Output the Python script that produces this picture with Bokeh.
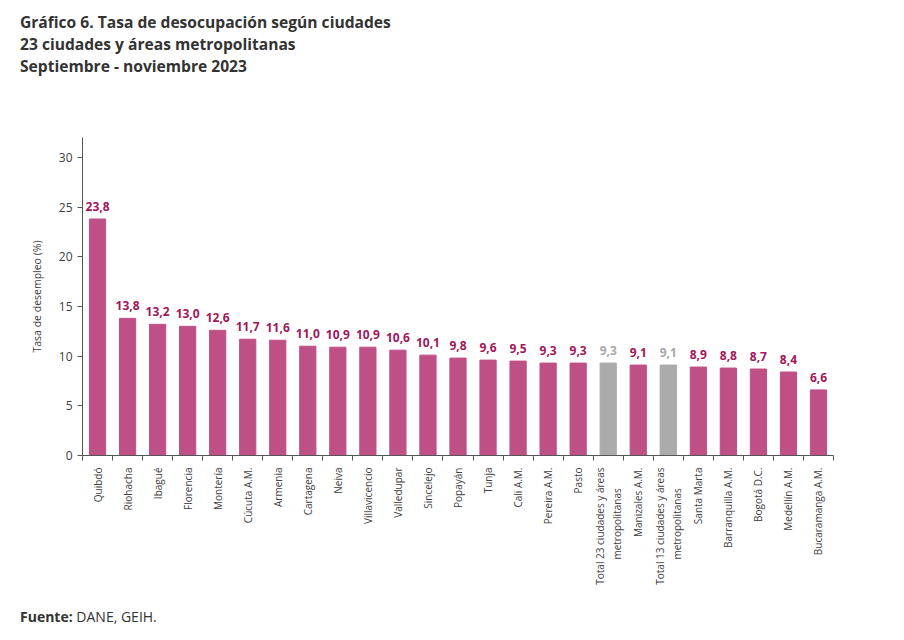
import math

from bokeh.plotting import figure
from bokeh.models import ColumnDataSource, FixedTicker, Range1d, Div
from bokeh.layouts import column
from bokeh.core.properties import value
from bokeh.embed import file_html
from bokeh.resources import INLINE

# Unemployment rate by city, Sep-Nov 2023
cities = [
    "Quibdó", "Riohacha", "Ibagué", "Florencia", "Montería", "Cúcuta A.M.",
    "Armenia", "Cartagena", "Neiva", "Villavicencio", "Valledupar", "Sincelejo",
    "Popayán", "Tunja", "Cali A.M.", "Pereira A.M.", "Pasto",
    "Total 23 ciudades y áreas metropolitanas", "Manizales A.M.",
    "Total 13 ciudades y áreas metropolitanas", "Santa Marta",
    "Barranquilla A.M.", "Bogotá D.C.", "Medellín A.M.", "Bucaramanga A.M.",
]
rates = [23.8, 13.8, 13.2, 13.0, 12.6, 11.7, 11.6, 11.0, 10.9, 10.9, 10.6, 10.1,
         9.8, 9.6, 9.5, 9.3, 9.3, 9.3, 9.1, 9.1, 8.9, 8.8, 8.7, 8.4, 6.6]
is_total = [c.startswith("Total") for c in cities]
y_ticks = [0, 5, 10, 15, 20, 25, 30]
title_lines = [
    "Gráfico 6. Tasa de desocupación según ciudades",
    "23 ciudades y áreas metropolitanas",
    "Septiembre - noviembre 2023",
]

BAR = "#BE5086"
BAR_TOTAL = "#ABABAB"
LBL = "#A0175A"
LBL_TOTAL = "#A8A8A8"
TXT = "#404040"
FONT = "Open Sans"


def tick_text(name):
    # the two long "Total ..." names wrap onto two lines; the short second
    # line is padded so it sits centred under the first
    if name.startswith("Total"):
        first = name.split(" metropolitanas")[0]
        return first + "\n" + "metropolitanas" + "\u00a0" * 8 + "\u200b"
    return name


n = len(cities)
xs = [i + 0.5 for i in range(n)]
src = ColumnDataSource(dict(
    x=xs,
    y=rates,
    color=[BAR_TOTAL if t else BAR for t in is_total],
    lcolor=[LBL_TOTAL if t else LBL for t in is_total],
    label=[f"{v:.1f}".replace(".", ",") for v in rates],
))

head = Div(text="<br>".join(title_lines), width=904, height=80,
           margin=(0, 0, 0, 0),
           styles={"font-family": FONT, "font-size": "15.6px", "font-weight": "bold",
                   "line-height": "22px", "color": "#333333",
                   "padding-left": "20px", "padding-top": "11px",
                   "box-sizing": "border-box"})

p = figure(width=904, height=520, output_backend="svg", toolbar_location=None,
           x_range=Range1d(0, n), y_range=Range1d(0, 32),
           min_border_left=82, min_border_right=71, min_border_top=57,
           min_border_bottom=145)
p.title.visible = False
p.outline_line_color = None
p.grid.grid_line_color = None

p.vbar(x="x", top="y", width=0.54, color="color", source=src)
p.text(x="x", y="y", text="label", source=src, text_color="lcolor",
       text_font=value(FONT), text_font_size="12px", text_font_style="bold",
       text_align="center", text_baseline="bottom", y_offset=-8)

# x axis: labels at bar centres (read bottom to top), small ticks between categories
xa = p.xaxis[0]
xa.ticker = FixedTicker(ticks=xs, minor_ticks=list(range(n + 1)))
xa.major_label_overrides = {x: tick_text(c) for x, c in zip(xs, cities)}
xa.major_label_orientation = math.pi / 2
xa.major_label_text_font = FONT
xa.major_label_text_font_size = "10px"
xa.major_label_text_color = TXT
xa.major_label_standoff = 6
xa.major_tick_line_color = None
xa.minor_tick_in = 0
xa.minor_tick_out = 5
xa.minor_tick_line_color = "#555555"
xa.axis_line_color = "#555555"

ya = p.yaxis[0]
ya.ticker = FixedTicker(ticks=y_ticks)
ya.minor_tick_line_color = None
ya.major_tick_in = 0
ya.major_tick_out = 5
ya.major_tick_line_color = "#555555"
ya.axis_line_color = "#555555"
ya.major_label_text_font = FONT
ya.major_label_text_font_size = "12px"
ya.major_label_text_color = TXT
ya.axis_label = "Tasa de desempleo (%)"
ya.axis_label_text_font = FONT
ya.axis_label_text_font_size = "10.5px"
ya.axis_label_text_font_style = "normal"
ya.axis_label_text_color = TXT
ya.axis_label_standoff = 12

note = Div(text="<b>Fuente:</b> DANE, GEIH.", width=904, height=40,
           margin=(0, 0, 0, 0),
           styles={"font-family": FONT, "font-size": "14px", "color": "#333333",
                   "padding-left": "20px", "padding-top": "7px"})

layout = column(head, p, note, spacing=0)
open("out.html", "w").write(file_html(layout, INLINE))
